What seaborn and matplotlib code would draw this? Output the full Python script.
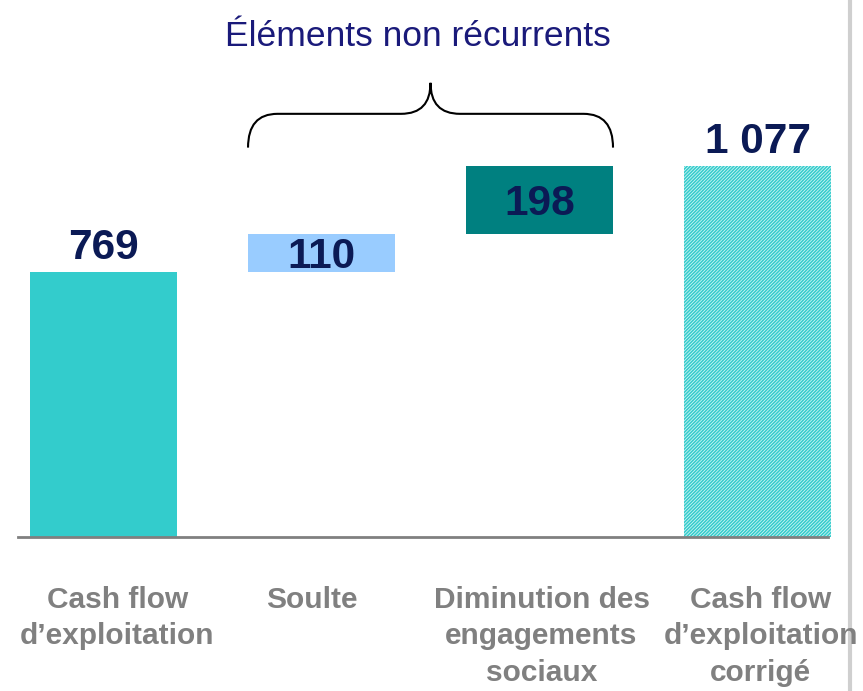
import numpy as np
import pandas as pd
import matplotlib.pyplot as plt
import seaborn as sns
from matplotlib.path import Path
from matplotlib.patches import PathPatch
from matplotlib.lines import Line2D
from matplotlib.transforms import ScaledTranslation

# waterfall data
categories = ["Cash flow\nd\u2019exploitation", "Soulte",
              "Diminution des\nengagements\nsociaux",
              "Cash flow\nd\u2019exploitation\ncorrig\u00e9"]
values = [769, 110, 198, 1077]
bottoms = [0, 769, 879, 0]
value_labels = ["769", "110", "198", "1 077"]
bar_colors = ["#33CCCC", "#99CCFF", "#008080", "#D2F4F4"]
label_shift_px = [14, -10, 2, 3]   # category labels are not exactly centred in the original

sns.set_style("white")
plt.rcParams['font.family'] = ['Liberation Sans', 'DejaVu Sans']
plt.rcParams['hatch.linewidth'] = 1.1

df = pd.DataFrame({"cat": categories, "val": values})

fig = plt.figure(figsize=(8.63, 6.91), dpi=100)
ax = fig.add_axes([18 / 863, (691 - 537) / 691, 810 / 863, 537 / 691])

sns.barplot(data=df, x="cat", y="val", bottom=bottoms, width=0.674,
            color="#33CCCC", linewidth=0, ax=ax)

for i, p in enumerate(ax.patches):
    p.set_facecolor(bar_colors[i])
    p.set_clip_on(False)
ax.patches[3].set_edgecolor("#33CCCC")
ax.patches[3].set_hatch("//////////")

ax.set_xlim(-0.392, 3.323)
ax.set_ylim(0, 537 / 0.3446)

# value labels
navy = "#0B1A55"
for i, (v, b) in enumerate(zip(values, bottoms)):
    if b == 0:
        ax.annotate(value_labels[i], (i, v), xytext=(0, 3), textcoords="offset points",
                    ha="center", va="bottom", fontsize=30.5, fontweight="bold", color=navy)
    else:
        ax.annotate(value_labels[i], (i, b + v / 2), xytext=(0, -3), textcoords="offset points",
                    ha="center", va="center", fontsize=30.5, fontweight="bold", color=navy)

# brace over the non-recurring items
w = 0.674
x0, x1 = 1 - w / 2, 2 + w / 2
xm = (x0 + x1) / 2
r = 0.135
y_end, y_h, y_pk = 1130, 1228, 1318
verts = [(x0, y_end), (x0, y_h), (x0 + r, y_h),
         (xm - r, y_h), (xm, y_h), (xm, y_pk),
         (xm, y_h), (xm + r, y_h),
         (x1 - r, y_h), (x1, y_h), (x1, y_end)]
codes = [Path.MOVETO, Path.CURVE3, Path.CURVE3,
         Path.LINETO, Path.CURVE3, Path.CURVE3,
         Path.CURVE3, Path.CURVE3,
         Path.LINETO, Path.CURVE3, Path.CURVE3]
ax.add_patch(PathPatch(Path(verts, codes), fill=False, lw=1.5, color="black", clip_on=False))

fig.text(418 / 863, 1 - 37 / 691, "\u00c9l\u00e9ments non r\u00e9currents", ha="center", va="center",
         fontsize=25.5, color="#1A1A7A")

# axes styling
sns.despine(ax=ax, left=True, top=True, right=True)
ax.spines["bottom"].set_color("#808080")
ax.spines["bottom"].set_linewidth(2)
ax.set_yticks([])
ax.set_xlabel("")
ax.set_ylabel("")
ax.tick_params(axis="x", length=0, pad=35)
for t, dx in zip(ax.get_xticklabels(), label_shift_px):
    t.set_fontsize(21.5)
    t.set_fontweight("bold")
    t.set_color("#808080")
    t.set_linespacing(1.39)
    t.set_multialignment("center")
    t.set_transform(t.get_transform() + ScaledTranslation(dx / 100, 0, fig.dpi_scale_trans))

# grey page edge on the right
fig.add_artist(Line2D([850 / 863, 850 / 863], [0, 1], transform=fig.transFigure,
                      color="#CFCFCF", lw=3, zorder=0))

fig.savefig("out.png", dpi=100)
